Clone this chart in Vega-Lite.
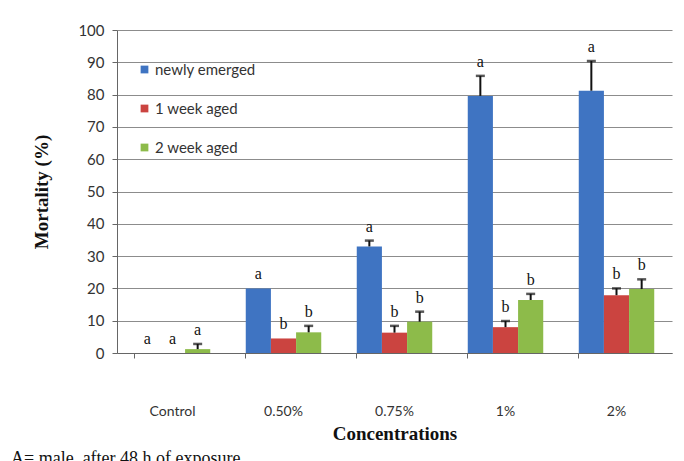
{
  "$schema": "https://vega.github.io/schema/vega-lite/v6.json",
  "width": 555,
  "height": 323,
  "autosize": "none",
  "padding": {"left": 117, "top": 30, "right": 12, "bottom": 108},
  "background": "white",
  "title": {
    "text": "A= male, after 48 h of exposure",
    "orient": "bottom",
    "anchor": "start",
    "frame": "group",
    "dx": -106,
    "offset": 7,
    "font": "Liberation Serif",
    "fontSize": 18,
    "fontWeight": "normal",
    "color": "#111"
  },
  "data": {
    "values": [
      {"conc": "Control", "age": "newly emerged", "mortality": 0, "hi": 0, "letter": "a"},
      {"conc": "Control", "age": "1 week aged", "mortality": 0, "hi": 0, "letter": "a"},
      {"conc": "Control", "age": "2 week aged", "mortality": 1.2, "hi": 2.8, "letter": "a"},
      {"conc": "0.50%", "age": "newly emerged", "mortality": 20, "hi": 20, "letter": "a"},
      {"conc": "0.50%", "age": "1 week aged", "mortality": 4.5, "hi": 4.5, "letter": "b"},
      {"conc": "0.50%", "age": "2 week aged", "mortality": 6.4, "hi": 8.4, "letter": "b"},
      {"conc": "0.75%", "age": "newly emerged", "mortality": 33, "hi": 34.8, "letter": "a"},
      {"conc": "0.75%", "age": "1 week aged", "mortality": 6.3, "hi": 8.4, "letter": "b"},
      {"conc": "0.75%", "age": "2 week aged", "mortality": 9.7, "hi": 12.8, "letter": "b"},
      {"conc": "1%", "age": "newly emerged", "mortality": 79.6, "hi": 85.8, "letter": "a"},
      {"conc": "1%", "age": "1 week aged", "mortality": 8, "hi": 9.9, "letter": "b"},
      {"conc": "1%", "age": "2 week aged", "mortality": 16.4, "hi": 18.3, "letter": "b"},
      {"conc": "2%", "age": "newly emerged", "mortality": 81.2, "hi": 90.4, "letter": "a"},
      {"conc": "2%", "age": "1 week aged", "mortality": 17.9, "hi": 20, "letter": "b"},
      {"conc": "2%", "age": "2 week aged", "mortality": 19.8, "hi": 22.8, "letter": "b"}
    ]
  },
  "encoding": {
    "x": {
      "field": "conc",
      "type": "nominal",
      "sort": ["Control", "0.50%", "0.75%", "1%", "2%"],
      "scale": {"paddingInner": 0.32, "paddingOuter": 0.16},
      "axis": {
        "title": "Concentrations",
        "titleFont": "Liberation Serif",
        "titleFontSize": 19,
        "titleFontWeight": "bold",
        "titleColor": "#111",
        "titlePadding": 6,
        "labelAngle": 0,
        "labelFont": "Lato",
        "labelFontSize": 14,
        "labelColor": "#333",
        "labelPadding": 46,
        "bandPosition": 0,
        "tickSize": 5,
        "tickColor": "#666",
        "domainColor": "#666",
        "grid": false
      }
    },
    "xOffset": {
      "field": "age",
      "type": "nominal",
      "sort": ["newly emerged", "1 week aged", "2 week aged"],
      "scale": {"paddingInner": 0, "paddingOuter": 0}
    }
  },
  "layer": [
    {
      "mark": {"type": "bar"},
      "encoding": {
        "y": {
          "field": "mortality",
          "type": "quantitative",
          "scale": {"domain": [0, 100]},
          "title": "Mortality (%)"
        },
        "color": {
          "field": "age",
          "type": "nominal",
          "sort": ["newly emerged", "1 week aged", "2 week aged"],
          "scale": {
            "domain": ["newly emerged", "1 week aged", "2 week aged"],
            "range": ["#3F74C2", "#CB4440", "#8DBB4A"]
          },
          "legend": {
            "title": null,
            "orient": "none",
            "legendX": 20,
            "legendY": 32,
            "symbolType": "square",
            "symbolSize": 60,
            "symbolStrokeWidth": 0,
            "labelFont": "Lato",
            "labelFontSize": 15,
            "labelColor": "#333",
            "rowPadding": 23,
            "labelOffset": 3
          }
        }
      }
    },
    {
      "transform": [{"filter": "datum.hi > datum.mortality"}],
      "mark": {"type": "rule", "color": "#111", "strokeWidth": 2},
      "encoding": {
        "y": {"field": "mortality", "type": "quantitative", "title": "Mortality (%)"},
        "y2": {"field": "hi"}
      }
    },
    {
      "transform": [{"filter": "datum.hi > datum.mortality"}],
      "mark": {"type": "tick", "color": "#111", "thickness": 2.5, "size": 9},
      "encoding": {
        "y": {"field": "hi", "type": "quantitative", "title": "Mortality (%)"}
      }
    },
    {
      "mark": {"type": "text", "baseline": "bottom", "dy": -6, "font": "Liberation Serif", "fontSize": 16, "color": "#111"},
      "encoding": {
        "y": {"field": "hi", "type": "quantitative", "title": "Mortality (%)"},
        "text": {"field": "letter"}
      }
    }
  ],
  "config": {
    "view": {"stroke": null},
    "axisY": {
      "tickCount": 10,
      "labelOverlap": false,
      "titleFont": "Liberation Serif",
      "titleFontSize": 19,
      "titleFontWeight": "bold",
      "titleColor": "#111",
      "titlePadding": 26,
      "labelFont": "Lato",
      "labelFontSize": 15,
      "labelColor": "#333",
      "labelPadding": 8,
      "tickSize": 5,
      "tickColor": "#666",
      "domainColor": "#666",
      "gridColor": "#8c8c8c",
      "gridWidth": 1.2
    }
  }
}
